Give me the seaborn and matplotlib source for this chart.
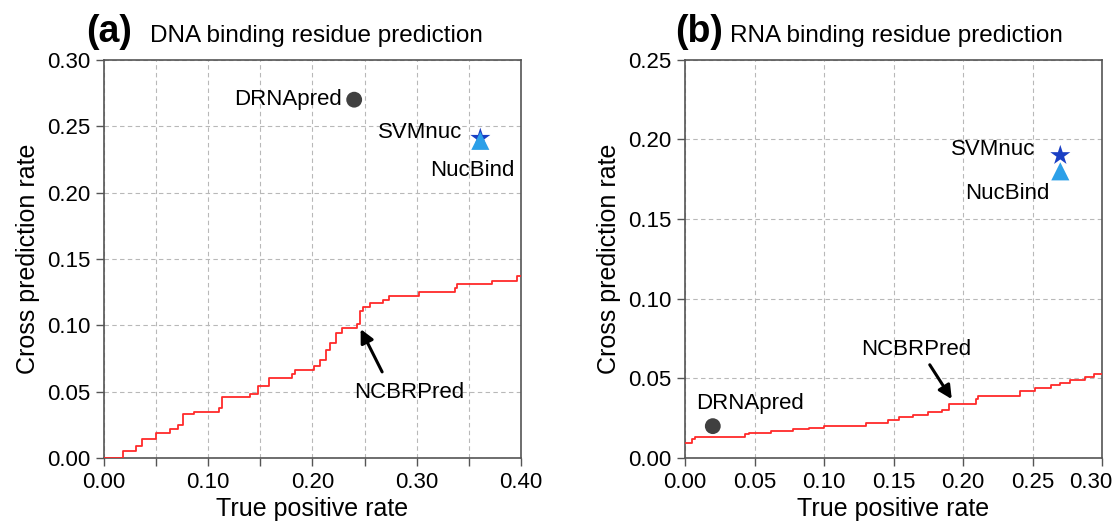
import numpy as np
import pandas as pd
import seaborn as sns
import matplotlib.pyplot as plt
from matplotlib.ticker import MultipleLocator

# (a) DNA - NCBRPred curve (true positive rate vs cross prediction rate)
dna_tpr = [0.0, 0.018, 0.031, 0.036, 0.05, 0.063, 0.071, 0.076, 0.086, 0.11, 0.113,
           0.14, 0.148, 0.158, 0.18, 0.183, 0.201, 0.207, 0.213, 0.217, 0.223, 0.228,
           0.243, 0.246, 0.248, 0.255, 0.268, 0.273, 0.302, 0.337, 0.339, 0.372, 0.396, 0.40]
dna_cpr = [0.0, 0.005, 0.009, 0.014, 0.019, 0.022, 0.025, 0.033, 0.035, 0.038, 0.046,
           0.048, 0.054, 0.060, 0.063, 0.066, 0.069, 0.074, 0.081, 0.087, 0.094, 0.098,
           0.101, 0.111, 0.114, 0.117, 0.119, 0.122, 0.125, 0.128, 0.131, 0.133, 0.137, 0.137]

# (b) RNA - NCBRPred curve
rna_tpr = [0.0, 0.005, 0.007, 0.043, 0.046, 0.062, 0.078, 0.089, 0.10, 0.13, 0.146,
           0.154, 0.164, 0.175, 0.185, 0.19, 0.209, 0.211, 0.241, 0.252, 0.263, 0.27,
           0.277, 0.288, 0.294, 0.30]
rna_cpr = [0.0095, 0.012, 0.013, 0.015, 0.016, 0.017, 0.018, 0.019, 0.020, 0.022, 0.024,
           0.026, 0.027, 0.029, 0.030, 0.034, 0.037, 0.039, 0.042, 0.044, 0.046, 0.047,
           0.049, 0.051, 0.053, 0.053]

# other predictors (single points)
tools = ["DRNApred", "SVMnuc", "NucBind"]
dna_pts_x = [0.240, 0.361, 0.361]
dna_pts_y = [0.270, 0.241, 0.239]
rna_pts_x = [0.020, 0.270, 0.270]
rna_pts_y = [0.020, 0.190, 0.180]

sns.set_style("ticks")
plt.rcParams['font.family'] = ['Liberation Sans', 'DejaVu Sans']
plt.rcParams['text.color'] = 'black'
plt.rcParams['axes.labelcolor'] = 'black'
plt.rcParams['xtick.labelcolor'] = 'black'
plt.rcParams['ytick.labelcolor'] = 'black'

colors = {"DRNApred": "#404040", "SVMnuc": "#1a3fc4", "NucBind": "#2b9fe8"}
markers = {"DRNApred": "o", "SVMnuc": "*", "NucBind": "^"}
sizes = {"DRNApred": 130, "SVMnuc": 230, "NucBind": 170}

fig = plt.figure(figsize=(11.18, 5.28), dpi=100)
ax1 = fig.add_axes([0.093, 0.1326, 0.373, 0.754])
ax2 = fig.add_axes([0.6127, 0.1326, 0.373, 0.754])


def draw(ax, tpr, cpr, px, py):
    curve = pd.DataFrame({"tpr": tpr, "cpr": cpr})
    sns.lineplot(data=curve, x="tpr", y="cpr", ax=ax, color="#ff2a2a", lw=1.3,
                 drawstyle="steps-post", zorder=3)
    for name, x, y in zip(tools, px, py):
        sns.scatterplot(x=[x], y=[y], ax=ax, color=colors[name], marker=markers[name],
                        s=sizes[name], edgecolor="none", zorder=4)
    ax.grid(True, which="both", ls=(0, (4, 3)), color="#b8b8b8", lw=0.8)
    ax.set_axisbelow(True)
    for s in ax.spines.values():
        s.set_color("#555555")
        s.set_linewidth(1.2)
    ax.tick_params(which="both", direction="out", length=6, width=1, color="#555555",
                   labelsize=16, pad=4)
    ax.set_xlabel("True positive rate", fontsize=18, labelpad=3)
    ax.set_ylabel("Cross prediction rate", fontsize=18, labelpad=5)


# panel a
draw(ax1, dna_tpr, dna_cpr, dna_pts_x, dna_pts_y)
ax1.set_xlim(0, 0.40)
ax1.set_ylim(0, 0.30)
ax1.xaxis.set_major_locator(MultipleLocator(0.1))
ax1.xaxis.set_minor_locator(MultipleLocator(0.05))
ax1.yaxis.set_major_locator(MultipleLocator(0.05))
ax1.xaxis.set_major_formatter(lambda v, p: f"{v:.2f}")
ax1.yaxis.set_major_formatter(lambda v, p: f"{v:.2f}")
ax1.text(0.228, 0.270, "DRNApred", fontsize=16, ha="right", va="center")
ax1.text(0.344, 0.245, "SVMnuc", fontsize=16, ha="right", va="center")
ax1.text(0.353, 0.217, "NucBind", fontsize=16, ha="center", va="center")
ax1.annotate("", xy=(0.245, 0.099), xytext=(0.268, 0.063),
             arrowprops=dict(arrowstyle="-|>", color="black", lw=2.2, mutation_scale=20))
ax1.text(0.293, 0.0495, "NCBRPred", fontsize=16, ha="center", va="center")
ax1.text(-0.043, 1.045, "(a)", transform=ax1.transAxes, fontsize=27, fontweight="bold",
         va="baseline")
ax1.text(0.11, 1.045, "DNA binding residue prediction", transform=ax1.transAxes,
         fontsize=17.5, va="baseline")

# panel b
draw(ax2, rna_tpr, rna_cpr, rna_pts_x, rna_pts_y)
ax2.set_xlim(0, 0.30)
ax2.set_ylim(0, 0.25)
ax2.xaxis.set_major_locator(MultipleLocator(0.05))
ax2.yaxis.set_major_locator(MultipleLocator(0.05))
# last label sits against the figure edge, it is drawn separately a bit to the left
ax2.xaxis.set_major_formatter(lambda v, p: "" if v > 0.299 else f"{v:.2f}")
ax2.yaxis.set_major_formatter(lambda v, p: f"{v:.2f}")
ax2.annotate("0.30", xy=(0.30, 0), xycoords=ax2.get_xaxis_transform(),
             xytext=(-8, -10), textcoords="offset points", ha="center", va="top",
             fontsize=16)
ax2.text(0.047, 0.0345, "DRNApred", fontsize=16, ha="center", va="center")
ax2.text(0.252, 0.1935, "SVMnuc", fontsize=16, ha="right", va="center")
ax2.text(0.232, 0.166, "NucBind", fontsize=16, ha="center", va="center")
ax2.annotate("", xy=(0.193, 0.0355), xytext=(0.175, 0.060),
             arrowprops=dict(arrowstyle="-|>", color="black", lw=2.2, mutation_scale=20))
ax2.text(0.166, 0.068, "NCBRPred", fontsize=16, ha="center", va="center")
ax2.text(-0.024, 1.045, "(b)", transform=ax2.transAxes, fontsize=27, fontweight="bold",
         va="baseline")
ax2.text(0.108, 1.045, "RNA binding residue prediction", transform=ax2.transAxes,
         fontsize=17.5, va="baseline")

fig.savefig("out.png", dpi=100)
